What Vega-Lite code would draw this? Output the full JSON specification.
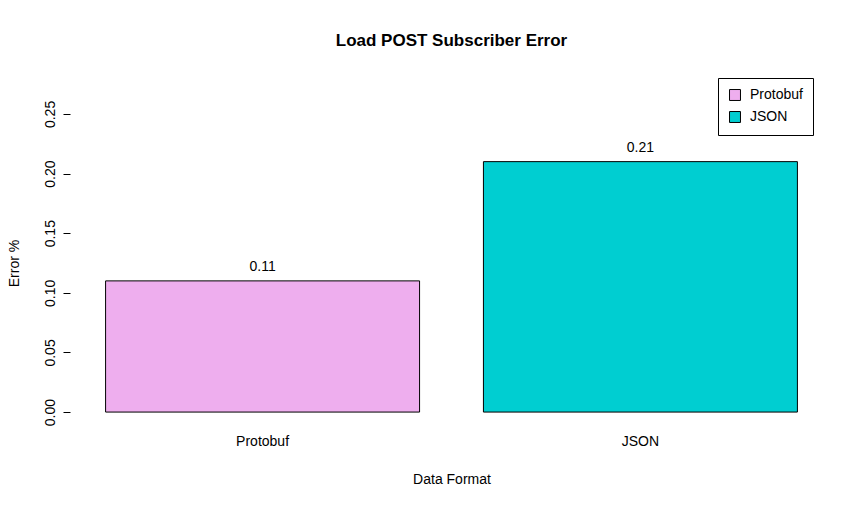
{
  "$schema": "https://vega.github.io/schema/vega-lite/v6.json",
  "width": 747,
  "height": 322,
  "autosize": "none",
  "padding": {"left": 78, "top": 102, "right": 40, "bottom": 86},
  "background": "white",
  "config": {
    "font": "Liberation Sans",
    "view": {"stroke": null},
    "axis": {"grid": false, "labelColor": "black", "titleColor": "black", "labelFontSize": 14, "titleFontSize": 14, "titleFontWeight": "normal", "tickColor": "black", "domainColor": "black"}
  },
  "title": {"text": "Load POST Subscriber Error", "fontSize": 17, "fontWeight": "bold", "color": "black", "anchor": "middle", "offset": 28},
  "data": {"values": [
    {"format": "Protobuf", "error": 0.11},
    {"format": "JSON", "error": 0.21}
  ]},
  "layer": [
    {
      "mark": {"type": "bar", "stroke": "black", "strokeWidth": 1},
      "encoding": {
        "x": {"field": "format", "type": "nominal", "sort": ["Protobuf", "JSON"],
          "scale": {"paddingInner": 0.169, "paddingOuter": 0.073},
          "axis": {"title": "Data Format", "labelAngle": 0, "domain": false, "ticks": false, "labelPadding": 10, "titlePadding": 24}},
        "y": {"field": "error", "type": "quantitative",
          "scale": {"domain": [-0.01, 0.26], "nice": false, "zero": false},
          "axis": {"title": "Error %", "values": [0, 0.05, 0.1, 0.15, 0.2, 0.25], "format": ".2f", "labelAngle": -90, "labelAlign": "center", "labelBaseline": "bottom", "labelPadding": 6, "offset": 8, "domain": false, "tickSize": 7, "titlePadding": 22}},
        "y2": {"datum": 0},
        "fill": {"field": "format", "type": "nominal",
          "scale": {"domain": ["Protobuf", "JSON"], "range": ["#EEAEEE", "#00CED1"]},
          "legend": {"title": null, "orient": "none", "legendX": 640, "legendY": -24, "symbolType": "square", "symbolStrokeColor": "black", "symbolStrokeWidth": 1, "symbolSize": 120, "labelFontSize": 14, "labelColor": "black", "strokeColor": "black", "padding": 10, "rowPadding": 6, "labelOffset": 8, "labelLimit": 200}}
      }
    },
    {
      "mark": {"type": "text", "fontSize": 14, "color": "black", "dy": -14},
      "encoding": {
        "x": {"field": "format", "type": "nominal", "sort": ["Protobuf", "JSON"]},
        "y": {"field": "error", "type": "quantitative"},
        "text": {"field": "error", "type": "quantitative", "format": ".2f"}
      }
    }
  ]
}
